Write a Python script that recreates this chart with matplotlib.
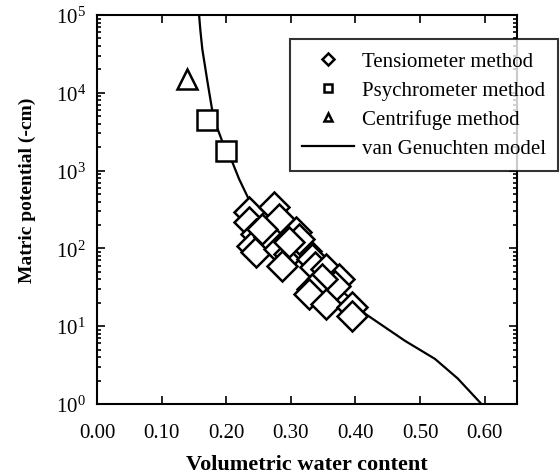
import numpy as np
import matplotlib
matplotlib.use("Agg")
import matplotlib.pyplot as plt
from matplotlib.lines import Line2D

plt.rcParams['font.family'] = ['Liberation Serif', 'DejaVu Serif']
plt.rcParams['mathtext.fontset'] = 'stix'

# tensiometer readings (theta, log10 h)
tens_theta = [0.235, 0.274, 0.235, 0.282, 0.308, 0.246, 0.240, 0.246, 0.266,
              0.292, 0.282, 0.297, 0.286, 0.323, 0.332, 0.338, 0.354, 0.374,
              0.369, 0.348, 0.332, 0.328, 0.354, 0.394, 0.394, 0.312, 0.255,
              0.297]
tens_logh = [2.47, 2.53, 2.34, 2.38, 2.21, 2.19, 2.03, 1.95, 2.15,
             2.03, 1.99, 1.93, 1.77, 1.97, 1.86, 1.76, 1.74, 1.61,
             1.52, 1.61, 1.48, 1.41, 1.29, 1.25, 1.13, 2.12, 2.25,
             2.08]

psy_theta = [0.171, 0.200]
psy_h = [4500, 1800]

cen_theta = [0.140]
cen_h = [15000]

# van Genuchten curve (theta, log10 h)
vg_theta = [0.158, 0.160, 0.163, 0.167, 0.171, 0.178, 0.186, 0.195, 0.205,
            0.220, 0.235, 0.251, 0.271, 0.290, 0.317, 0.358, 0.405, 0.415,
            0.477, 0.523, 0.558, 0.595]
vg_logh = [5.0, 4.8, 4.56, 4.35, 4.14, 3.79, 3.55, 3.35, 3.2,
           2.89, 2.63, 2.42, 2.25, 2.12, 1.95, 1.61, 1.26, 1.16,
           0.81, 0.58, 0.33, 0.0]

xticks = [0.0, 0.1, 0.2, 0.3, 0.4, 0.5, 0.6]

fig = plt.figure(figsize=(5.6, 4.77), dpi=100)
ax = fig.add_axes([97/560, 1-405/477, 420/560, 389/477])

ax.plot(vg_theta, 10**np.array(vg_logh), color='black', lw=1.6, zorder=2)
ax.plot(tens_theta, 10**np.array(tens_logh), 'D', ms=15, mfc='white',
        mec='black', mew=1.8, zorder=3)
ax.plot(psy_theta, psy_h, 's', ms=14, mfc='white', mec='black', mew=1.8, zorder=3)
ax.plot(cen_theta, cen_h, '^', ms=15, mfc='white', mec='black', mew=1.8, zorder=3)

ax.set_yscale('log')
ax.set_xlim(0, 0.65)
ax.set_ylim(1, 1e5)
ax.set_xticks(xticks)
ax.set_xticklabels([f'{v:.2f}' for v in xticks])
ax.tick_params(which='both', direction='in', top=True, right=True,
               labelsize=15, width=1.2)
ax.tick_params(which='major', length=6)
ax.tick_params(axis='x', which='major', pad=14)
ax.tick_params(axis='y', which='major', pad=8)
ax.tick_params(which='minor', length=3)
for s in ax.spines.values():
    s.set_linewidth(1.5)

ax.set_xlabel('Volumetric water content', fontsize=16, fontweight='bold', labelpad=8)
ax.set_ylabel('Matric potential (-cm)', fontsize=14, fontweight='bold')
ax.yaxis.set_label_coords(-0.145, 0.553)

handles = [
    Line2D([], [], ls='none', marker='D', ms=6, mfc='white', mec='black', mew=1.8),
    Line2D([], [], ls='none', marker='s', ms=6, mfc='white', mec='black', mew=1.8),
    Line2D([], [], ls='none', marker='^', ms=6, mfc='white', mec='black', mew=1.8),
    Line2D([], [], color='black', lw=1.6),
]
labels = ['Tensiometer method', 'Psychrometer method', 'Centrifuge method',
          'van Genuchten model']
leg = ax.legend(handles, labels, loc='upper right',
                bbox_to_anchor=(558/560, 1-40/477), bbox_transform=fig.transFigure,
                fontsize=15, frameon=True, fancybox=False, edgecolor='black',
                handlelength=2.5, handletextpad=0.35, labelspacing=0.45,
                borderpad=0.6, borderaxespad=0)
leg.get_frame().set_linewidth(1.5)

fig.savefig('out.png', dpi=100)
